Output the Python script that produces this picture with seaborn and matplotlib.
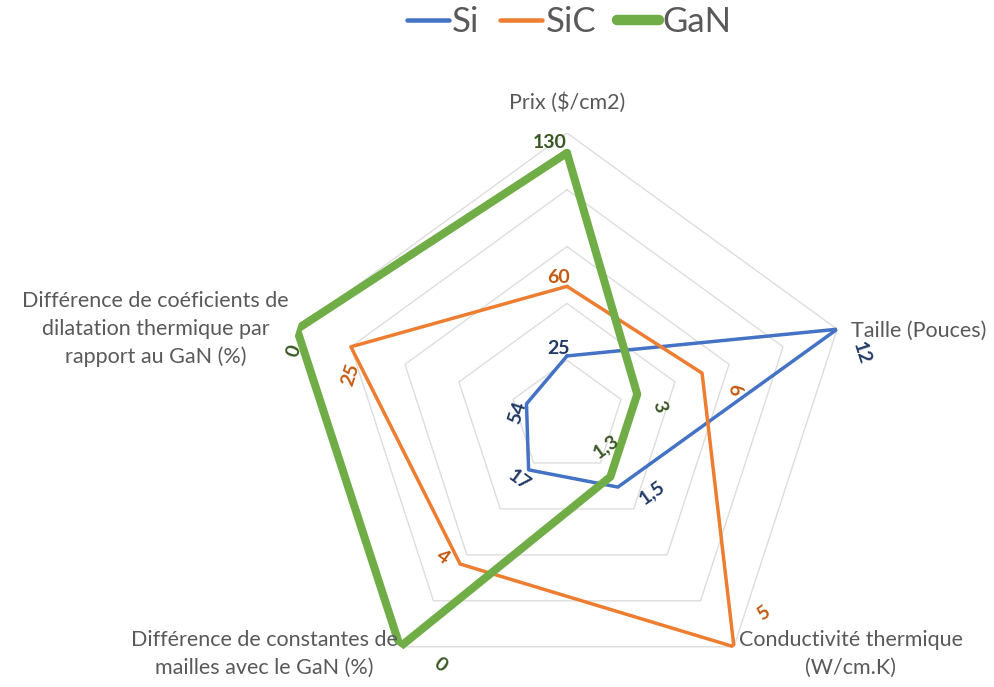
import numpy as np
import pandas as pd
import matplotlib
matplotlib.use("Agg")
import matplotlib.pyplot as plt
import seaborn as sns

# ---------------- data ----------------
categories = ["Prix ($/cm2)", "Taille (Pouces)", "Conductivité thermique\n(W/cm.K)",
              "Différence de constantes de\nmailles avec le GaN (%)",
              "Différence de coéficients de\ndilatation thermique par\nrapport au GaN (%)"]
series = ["Si", "SiC", "GaN"]
# values shown in the data labels
si_values = [25, 12, 1.5, 17, 54]
sic_values = [60, 6, 5, 4, 25]
gan_values = [130, 3, 1.3, 0, 0]
# normalised (plotted) radius on each axis
si_radius = [0.215, 1.0, 0.305, 0.23, 0.15]
sic_radius = [0.46, 0.50, 1.0, 0.64, 0.80]
gan_radius = [0.93, 0.26, 0.26, 1.0, 1.0]
ring_levels = [0.2, 0.4, 0.6, 0.8, 1.0]

# ---------------- style ----------------
sns.set_theme(style="white")
plt.rcParams["font.family"] = ["Lato", "DejaVu Sans"]

colors = {"Si": "#4472C4", "SiC": "#ED7D31", "GaN": "#70AD47"}
label_colors = {"Si": "#203864", "SiC": "#C55A11", "GaN": "#385723"}
widths = {"Si": 2.5, "SiC": 2.5, "GaN": 5.8}
# data label offsets (pixels, x right / y down) per series and axis
label_offsets = {
    "Si": [(-9, -7), (24, 24), (34, 5), (-10, 10), (-9, 9)],
    "SiC": [(-8, -9), (32, 17), (30, -34), (-17, -7), (0, 28)],
    "GaN": [(-17, -10), (22, 12), (-5, -30), (40, 18), (-3, 22)],
}
label_rot = [0, -72, 36, -36, 72]

values = {"Si": si_values, "SiC": sic_values, "GaN": gan_values}
radii = {"Si": si_radius, "SiC": sic_radius, "GaN": gan_radius}

n = len(categories)
theta = np.arange(n) * 2 * np.pi / n

W, H = 995, 687
fig = plt.figure(figsize=(W / 100, H / 100), dpi=100)
cx, cy, R = 567, 417, 284
ax = fig.add_axes([(cx - R) / W, (H - cy - R) / H, 2 * R / W, 2 * R / H], projection="polar")
ax.set_theta_offset(np.pi / 2)
ax.set_theta_direction(-1)
ax.set_ylim(0, 1)
ax.set_xticks([])
ax.set_yticks([])
ax.grid(False)
ax.spines["polar"].set_visible(False)
ax.patch.set_alpha(0)

closed_theta = np.append(theta, theta[0])
for lv in ring_levels:
    ax.plot(closed_theta, [lv] * (n + 1), color="#DDDDDD", lw=1.0, zorder=1)

rows = []
for s in series:
    for i in range(n + 1):
        k = i % n
        rows.append({"series": s, "theta": closed_theta[i], "r": radii[s][k], "order": i})
df = pd.DataFrame(rows)

handles = []
for s in series:
    sub = df[df["series"] == s]
    sns.lineplot(data=sub, x="theta", y="r", sort=False, estimator=None, ax=ax,
                 color=colors[s], lw=widths[s], zorder=3)
    handles.append(plt.Line2D([], [], color=colors[s], lw=widths[s] * 1.3,
                              solid_capstyle="round", label=s))

ax.set_xlabel("")
ax.set_ylabel("")
if ax.get_legend() is not None:
    ax.get_legend().remove()

def fmt(v):
    return ("%g" % v).replace(".", ",")

for s in series:
    for k in range(n):
        dx, dy = label_offsets[s][k]
        ax.annotate(fmt(values[s][k]), xy=(theta[k], radii[s][k]), xytext=(dx, -dy),
                    textcoords="offset pixels", ha="center", va="center",
                    rotation=label_rot[k], rotation_mode="anchor",
                    fontsize=14, fontweight="bold", color=label_colors[s], zorder=5)

# category labels
cat_style = [
    dict(off=(0, -30), ha="center", va="center"),
    dict(off=(14, 2), ha="left", va="center"),
    dict(off=(5, 7), ha="left", va="center"),
    dict(off=(-2, 7), ha="right", va="center"),
    dict(off=(-8, 0), ha="right", va="center"),
]
for k, cat in enumerate(categories):
    st = cat_style[k]
    ax.annotate(cat, xy=(theta[k], 1.0), xytext=(st["off"][0], -st["off"][1]),
                textcoords="offset pixels", ha=st["ha"], va=st["va"],
                multialignment="center", fontsize=15.5, color="#595959",
                linespacing=1.48, annotation_clip=False)

fig.legend(handles=handles, loc="center", bbox_to_anchor=(569 / W, 1 - 22 / H), ncol=3,
           frameon=False, fontsize=25, handlelength=1.2, handletextpad=0.1,
           columnspacing=0.6, labelcolor="#595959")

fig.savefig("out.png", dpi=100, facecolor="white")
